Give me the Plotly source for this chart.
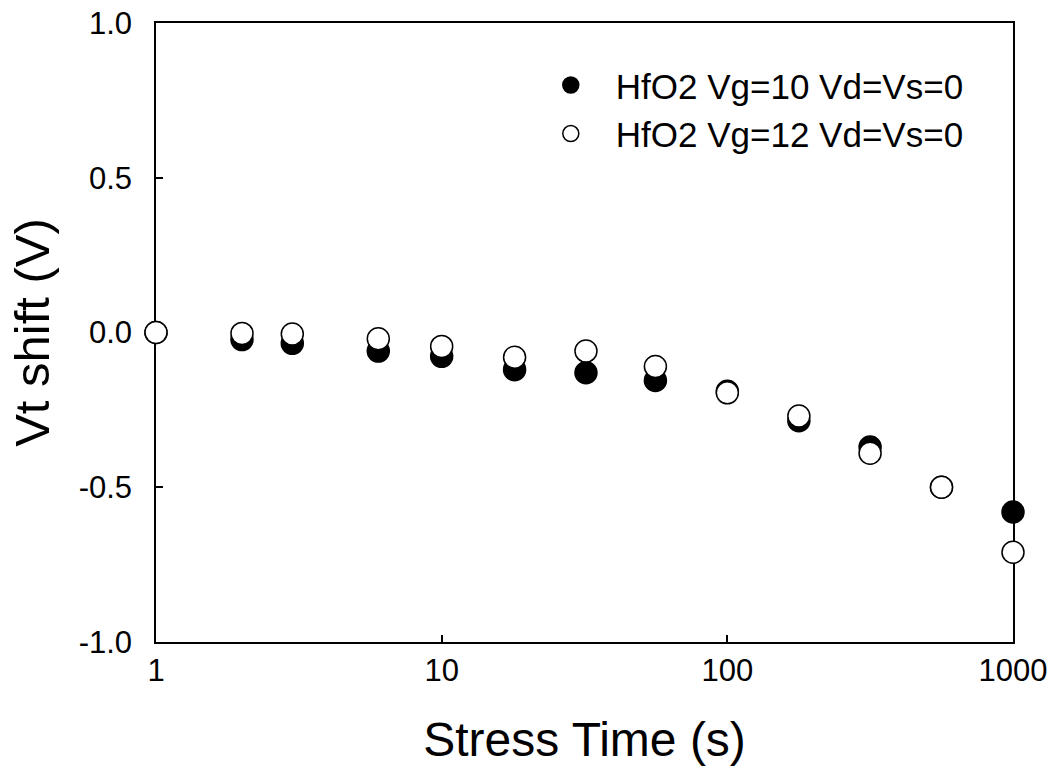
import plotly.graph_objects as go

stress_time = [1, 2, 3, 6, 10, 18, 32, 56, 100, 178, 316, 562, 1000]
vt_vg10 = [0.0, -0.023, -0.035, -0.06, -0.077, -0.12, -0.13, -0.155, -0.19, -0.285, -0.37, -0.50, -0.58]
vt_vg12 = [0.0, -0.003, -0.005, -0.02, -0.045, -0.08, -0.06, -0.11, -0.195, -0.27, -0.39, -0.50, -0.71]

x_tickvals = [1, 10, 100, 1000]
x_ticktext = ["1", "10", "100", "1000"]
y_tickvals = [-1.0, -0.5, 0.0, 0.5, 1.0]
y_ticktext = ["-1.0", "-0.5", "0.0", "0.5", "1.0"]

FONT = "Liberation Sans, Arial, sans-serif"

fig = go.Figure()
fig.add_trace(go.Scatter(
    x=stress_time, y=vt_vg10, mode="markers", name="HfO2 Vg=10 Vd=Vs=0",
    cliponaxis=False,
    marker=dict(symbol="circle", size=22, color="black", line=dict(color="black", width=1.5)),
))
fig.add_trace(go.Scatter(
    x=stress_time, y=vt_vg12, mode="markers", name="HfO2 Vg=12 Vd=Vs=0",
    cliponaxis=False,
    marker=dict(symbol="circle", size=22, color="white", line=dict(color="black", width=1.5)),
))

fig.update_layout(
    width=1055, height=775,
    margin=dict(l=156, r=42, t=23, b=133, autoexpand=False),
    paper_bgcolor="white", plot_bgcolor="white",
    font=dict(family=FONT, color="black"),
    showlegend=True,
    legend=dict(
        x=0.4315, y=0.947, xanchor="left", yanchor="top",
        bgcolor="rgba(0,0,0,0)", font=dict(size=35, family=FONT),
        itemwidth=80, tracegroupgap=0,
    ),
)
fig.update_xaxes(
    type="log", range=[0, 3], automargin=False, layer="below traces",
    tickvals=x_tickvals, ticktext=x_ticktext,
    ticks="inside", ticklen=7, tickwidth=1.5, tickcolor="black",
    showline=True, linecolor="black", linewidth=1.5, mirror=True,
    showgrid=False, zeroline=False,
    tickfont=dict(size=31, family=FONT),
    title=dict(text="Stress Time (s)", font=dict(size=48, family=FONT), standoff=35),
)
fig.update_yaxes(
    range=[-1, 1], automargin=False, layer="below traces",
    tickvals=y_tickvals, ticktext=y_ticktext,
    ticks="inside", ticklen=7, tickwidth=1.5, tickcolor="black",
    showline=True, linecolor="black", linewidth=1.5, mirror=True,
    showgrid=False, zeroline=False,
    ticklabelstandoff=16,
    tickfont=dict(size=31, family=FONT),
    title=dict(text="Vt shift (V)", font=dict(size=49, family=FONT), standoff=13),
)

fig.write_html("out.html")
